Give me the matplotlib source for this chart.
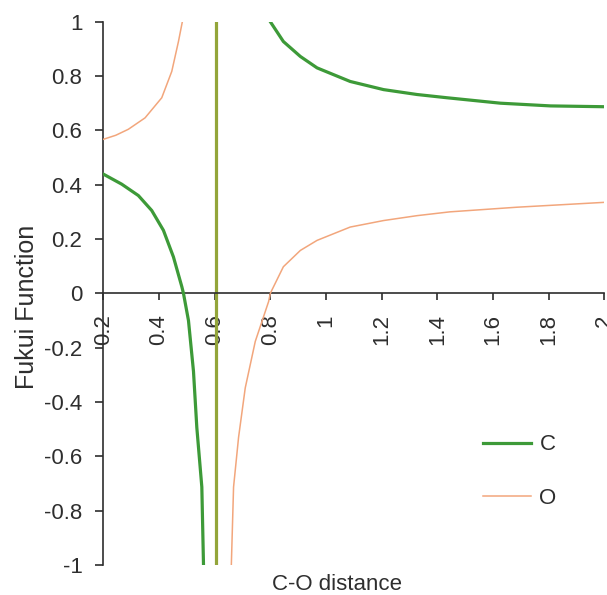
import matplotlib.pyplot as plt

plt.rcParams['font.family'] = ['Liberation Sans', 'DejaVu Sans']

# =========================
# Data
# =========================
c_left_x = [0.20, 0.266, 0.326, 0.374, 0.416, 0.452, 0.482, 0.488, 0.506, 0.524, 0.536, 0.554, 0.560]
c_left_y = [0.439, 0.402, 0.36, 0.305, 0.232, 0.134, 0.025, 0.0, -0.10, -0.287, -0.494, -0.713, -1.0]

c_right_x = [0.80, 0.847, 0.908, 0.968, 1.087, 1.207, 1.327, 1.435, 1.627, 1.807, 2.00]
c_right_y = [1.0, 0.927, 0.872, 0.83, 0.78, 0.75, 0.732, 0.72, 0.70, 0.69, 0.687]

o_left_x = [0.20, 0.245, 0.29, 0.35, 0.41, 0.446, 0.47, 0.484]
o_left_y = [0.567, 0.582, 0.604, 0.646, 0.72, 0.817, 0.927, 1.0]

o_right_x = [0.66, 0.668, 0.686, 0.71, 0.746, 0.794, 0.80, 0.847, 0.908, 0.968,
             1.087, 1.207, 1.327, 1.445, 1.685, 2.00]
o_right_y = [-1.0, -0.713, -0.53, -0.348, -0.177, -0.03, 0.0, 0.098, 0.158, 0.195,
             0.244, 0.268, 0.286, 0.30, 0.317, 0.335]

pole_x = 0.605

x_ticks = [0.2, 0.4, 0.6, 0.8, 1.0, 1.2, 1.4, 1.6, 1.8, 2.0]
x_tick_labels = ["0.2", "0.4", "0.6", "0.8", "1", "1.2", "1.4", "1.6", "1.8", "2"]
y_ticks = [-1, -0.8, -0.6, -0.4, -0.2, 0, 0.2, 0.4, 0.6, 0.8, 1]
y_tick_labels = ["-1", "-0.8", "-0.6", "-0.4", "-0.2", "0", "0.2", "0.4", "0.6", "0.8", "1"]

green = "#3d9a38"
orange = "#f2a67c"
olive = "#93a53a"
txt = "#2e2e2e"

# =========================
# Plotting
# =========================
fig = plt.figure(figsize=(6.07, 5.95), dpi=100)
ax = fig.add_axes([103.3/607, 1 - 565/595, 501/607, 543.3/595])

ax.axvline(pole_x, color=olive, linewidth=2.3, zorder=2)
ax.plot(c_left_x, c_left_y, color=green, linewidth=2.3, label="C", zorder=3)
ax.plot(c_right_x, c_right_y, color=green, linewidth=2.3, zorder=3)
ax.plot(o_left_x, o_left_y, color=orange, linewidth=1.1, label="O", zorder=3)
ax.plot(o_right_x, o_right_y, color=orange, linewidth=1.1, zorder=3)

ax.set_xlim(0.2, 2.0)
ax.set_ylim(-1, 1)

ax.spines['top'].set_visible(False)
ax.spines['right'].set_visible(False)
ax.spines['bottom'].set_position(('data', 0))
for s in ['bottom', 'left']:
    ax.spines[s].set_color(txt)
    ax.spines[s].set_linewidth(1.2)

ax.set_xticks(x_ticks)
ax.set_xticklabels(x_tick_labels, rotation=90)
ax.set_yticks(y_ticks)
ax.set_yticklabels(y_tick_labels)
ax.tick_params(axis='x', direction='out', length=5, width=1.2, pad=10,
               labelsize=16, colors=txt)
ax.tick_params(axis='y', direction='out', length=6, width=1.2, pad=9,
               labelsize=16, colors=txt)

fig.text(27/607, 1 - 307/595, "Fukui Function", rotation=90,
         ha='center', va='center', fontsize=18, color=txt)
fig.text(337/607, 1 - 590/595, "C-O distance",
         ha='center', va='baseline', fontsize=16, color=txt)

ax.legend(loc='center left', bbox_to_anchor=(0.757, 0.172), frameon=False,
          fontsize=16, handlelength=2.2, handletextpad=0.36, labelspacing=1.45,
          borderpad=0, borderaxespad=0, labelcolor=txt)

fig.savefig("out.png", dpi=100)
